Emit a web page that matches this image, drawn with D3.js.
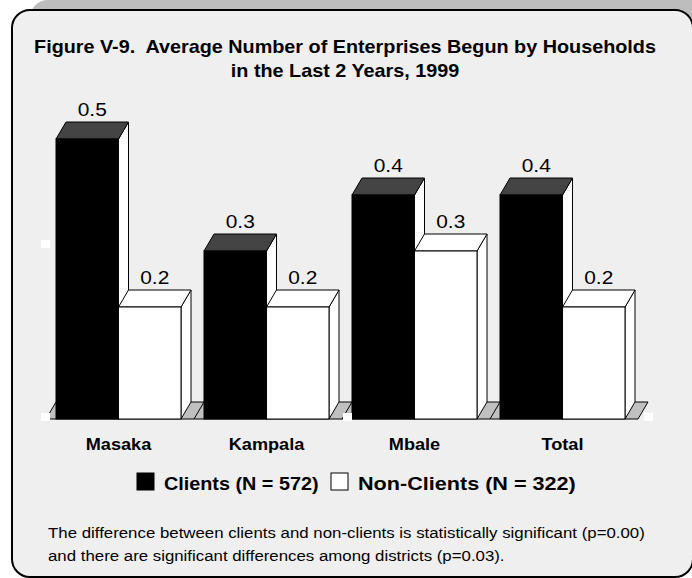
<!DOCTYPE html>
<html>
<head>
<meta charset="utf-8">
<script src="https://cdn.jsdelivr.net/npm/d3@7"></script>
<style>
  body { margin: 0; background: #fff; }
  svg { display: block; font-family: 'Liberation Sans', Arial, sans-serif; }
  text { white-space: pre; }
</style>
</head>
<body>
<svg width="692" height="578"></svg>
<script>
const width = 692, height = 578

// data
const categories = ['Masaka', 'Kampala', 'Mbale', 'Total'];
const series = ['Clients (N = 572)', 'Non-Clients (N = 322)'];
const clients = [0.5, 0.3, 0.4, 0.4];
const nonClients = [0.2, 0.2, 0.3, 0.2];
const titleLines = ['Figure V-9.  Average Number of Enterprises Begun by Households', 'in the Last 2 Years, 1999'];
const noteLines = [
    'The difference between clients and non-clients is statistically significant (p=0.00)',
    'and there are significant differences among districts (p=0.03).'
];

const fills = { front: ['#000', '#fff'], top: ['#444', '#fff'], side: ['#fff', '#fff'] };
const dx = 10, dy = 17; // 3d depth offset
const sx = 1.1; // the original text is a bit stretched sideways

const svg = d3.select('svg');

// place a text at x,y with the horizontal stretch
function at(x, y, k = sx) { return `translate(${x},${y}) scale(${k},1)`; }

// frame with shadow
svg.append('rect')
    .attr('x', 30).attr('y', 0).attr('width', 690).attr('height', 560)
    .attr('rx', 18).attr('fill', '#bdbdbd');
svg.append('rect')
    .attr('x', 12).attr('y', 10).attr('width', 681).attr('height', 567)
    .attr('rx', 18).attr('fill', '#efefef')
    .attr('stroke', '#000').attr('stroke-width', 2);

// title
svg.append('g').selectAll('text')
    .data(titleLines)
    .join('text')
    .attr('transform', (d, i) => at(345, 53 + i * 24))
    .attr('text-anchor', 'middle')
    .style('font-size', '18px')
    .style('font-weight', 'bold')
    .text(d => d);

// scales
const x0 = d3.scaleBand().domain(categories).range([46, 638]);
const x1 = d3.scaleBand().domain(series).range([10, 135]);
const y = d3.scaleLinear().domain([0, 0.5]).range([419, 139]);

// floor
const fx0 = x0.range()[0], fx1 = x0.range()[1], fy = y(0);
svg.append('path')
    .attr('d', `M${fx0},${fy}L${fx1},${fy}L${fx1 + dx},${fy - dy}L${fx0 + dx},${fy - dy}Z`)
    .attr('fill', '#c0c0c0').attr('stroke', '#000').attr('stroke-width', 1);
svg.append('g').selectAll('line')
    .data(categories.slice(1))
    .join('line')
    .attr('x1', d => x0(d)).attr('y1', fy)
    .attr('x2', d => x0(d) + dx).attr('y2', fy - dy)
    .attr('stroke', '#000');

// bars
const rows = [];
categories.forEach((c, i) => {
    rows.push({ cat: c, s: 0, v: clients[i] });
    rows.push({ cat: c, s: 1, v: nonClients[i] });
});

const bars = svg.append('g').selectAll('g')
    .data(rows)
    .join('g');

const bx = d => x0(d.cat) + x1(series[d.s]);
const bw = x1.bandwidth();

bars.append('path') // side
    .attr('d', d => {
        const x = bx(d) + bw, t = y(d.v), b = y(0);
        return `M${x},${b}L${x},${t}L${x + dx},${t - dy}L${x + dx},${b - dy}Z`;
    })
    .attr('fill', d => fills.side[d.s]).attr('stroke', '#000').attr('stroke-linejoin', 'round');
bars.append('path') // top
    .attr('d', d => {
        const x = bx(d), t = y(d.v);
        return `M${x},${t}L${x + dx},${t - dy}L${x + bw + dx},${t - dy}L${x + bw},${t}Z`;
    })
    .attr('fill', d => fills.top[d.s]).attr('stroke', '#000').attr('stroke-linejoin', 'round');
bars.append('rect') // front
    .attr('x', bx).attr('y', d => y(d.v))
    .attr('width', bw).attr('height', d => y(0) - y(d.v))
    .attr('fill', d => fills.front[d.s]).attr('stroke', '#000');

bars.append('text')
    .attr('transform', d => at(bx(d) + bw / 2 + dx / 2, y(d.v) - dy - 6))
    .attr('text-anchor', 'middle')
    .style('font-size', '19px')
    .text(d => d.v.toFixed(1));

// little white handles on the plot corners
svg.append('g').selectAll('rect')
    .data([[41, 240], [41, 413], [343, 413], [644, 413]])
    .join('rect')
    .attr('x', d => d[0]).attr('y', d => d[1])
    .attr('width', 9).attr('height', 8)
    .attr('fill', '#fff');

// category labels
svg.append('g').selectAll('text')
    .data(categories)
    .join('text')
    .attr('transform', d => at(x0(d) + x1.range()[0] + bw, 450))
    .attr('text-anchor', 'middle')
    .style('font-size', '16.5px')
    .style('font-weight', 'bold')
    .text(d => d);

// legend
const legend = svg.append('g');
const legX = [137, 331];
const legK = [1.1, 1.2];
series.forEach((s, i) => {
    legend.append('rect')
        .attr('x', legX[i]).attr('y', 473)
        .attr('width', 17).attr('height', 17)
        .attr('fill', fills.front[i]).attr('stroke', '#000');
    legend.append('text')
        .attr('transform', at(legX[i] + 27, 490, legK[i]))
        .style('font-size', '18px')
        .style('font-weight', 'bold')
        .text(s);
});

// footnote
svg.append('g').selectAll('text')
    .data(noteLines)
    .join('text')
    .attr('transform', (d, i) => at(48, 538 + i * 23))
    .style('font-size', '15.3px')
    .text(d => d);
</script>
</body>
</html>
